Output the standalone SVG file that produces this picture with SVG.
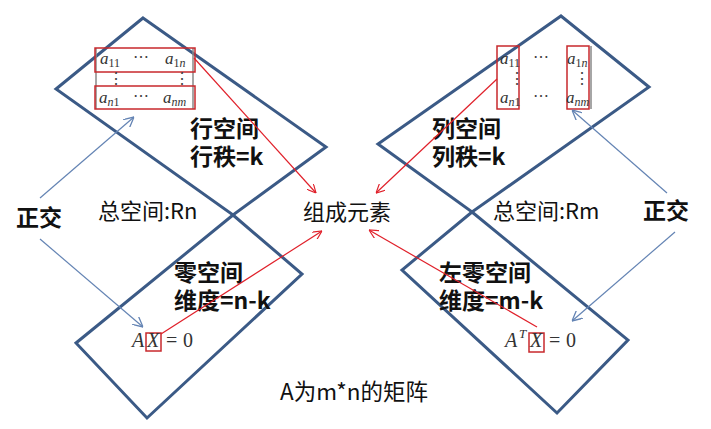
<svg xmlns="http://www.w3.org/2000/svg" width="711" height="429" viewBox="0 0 711 429">
<defs>
<style>
.plane{fill:none;stroke:#3b5a86;stroke-width:3;stroke-linejoin:miter}
.red{fill:none;stroke:#e0202a;stroke-width:1.2}
.blue{fill:none;stroke:#6484b4;stroke-width:1.2}
.box{fill:none;stroke:#c8282c;stroke-width:1.5}
.gray{stroke:#888;stroke-width:1.5}
.lab{font-family:"Noto Sans CJK SC","Noto Sans",sans-serif;font-size:22px;fill:#111}
.bold{font-weight:bold;font-size:23px}
.math{font-family:"Liberation Serif",serif;font-style:italic;font-size:17px;fill:#333}
.mr{font-family:"Liberation Serif",serif;font-size:16px;fill:#444}
.eq{font-family:"Liberation Serif",serif;font-size:20px;fill:#333}
.eqi{font-family:"Liberation Serif",serif;font-style:italic;font-size:20px;fill:#333}
.sub{font-size:12px;font-style:normal}
.subi{font-size:12px}
</style>
<marker id="ar" viewBox="0 0 10 10" refX="10" refY="5" markerWidth="9" markerHeight="9" orient="auto" markerUnits="userSpaceOnUse">
<path d="M0,0 L10,5 L0,10" fill="none" stroke="#e0202a" stroke-width="1.3"/>
</marker>
<marker id="ab" viewBox="0 0 10 10" refX="10" refY="5" markerWidth="10" markerHeight="10" orient="auto" markerUnits="userSpaceOnUse">
<path d="M0,0 L10,5 L0,10" fill="none" stroke="#6484b4" stroke-width="1.3"/>
</marker>
</defs>
<rect width="711" height="429" fill="#fff"/>

<g id="row-space">
<polygon class="plane" points="143,18 326,147 233,215 56,89"/>
<line class="gray" x1="96" y1="48" x2="96" y2="109"/>
<line class="gray" x1="193" y1="48" x2="193" y2="109"/>
<rect class="box" x="95" y="48" width="100" height="24"/>
<rect class="box" x="95" y="86" width="100" height="23"/>
<text class="math" x="100" y="64">a<tspan class="sub" dy="3">11</tspan></text>
<text class="mr" x="133" y="62">⋯</text>
<text class="math" x="165" y="64">a<tspan class="sub" dy="3">1</tspan><tspan class="subi">n</tspan></text>
<text class="mr" x="108" y="84">⋮</text>
<text class="mr" x="174" y="84">⋮</text>
<text class="math" x="99" y="103">a<tspan class="subi" dy="3">n</tspan><tspan class="sub">1</tspan></text>
<text class="mr" x="133" y="101">⋯</text>
<text class="math" x="163" y="103">a<tspan class="subi" dy="3">nm</tspan></text>
<text class="lab bold" x="190" y="137">行空间<tspan x="190" y="165">行秩=k</tspan></text>
</g>

<g id="col-space">
<polygon class="plane" points="561,16 649,87 472,212 378,144"/>
<line class="gray" x1="591" y1="46" x2="591" y2="109"/>
<rect class="box" x="497" y="46" width="22" height="63"/>
<rect class="box" x="567" y="46" width="22" height="63"/>
<text class="math" x="500" y="64">a<tspan class="sub" dy="3">11</tspan></text>
<text class="mr" x="533" y="62">⋯</text>
<text class="math" x="567" y="64">a<tspan class="sub" dy="3">1</tspan><tspan class="subi">n</tspan></text>
<text class="mr" x="509" y="84">⋮</text>
<text class="mr" x="574" y="84">⋮</text>
<text class="math" x="500" y="103">a<tspan class="subi" dy="3">n</tspan><tspan class="sub">1</tspan></text>
<text class="mr" x="533" y="101">⋯</text>
<text class="math" x="566" y="103">a<tspan class="subi" dy="3">nm</tspan></text>
<text class="lab bold" x="432" y="137">列空间<tspan x="432" y="165">列秩=k</tspan></text>
</g>

<g id="null-space">
<polygon class="plane" points="233,215 302,274 147,418 76,343"/>
<rect class="box" x="146" y="333" width="15" height="18"/>
<text class="eqi" x="132" y="347">A</text>
<text class="eqi" x="147" y="347">X</text>
<text class="eq" x="166" y="347">=</text>
<text class="eq" x="183" y="347">0</text>
<text class="lab bold" x="174" y="281">零空间<tspan x="174" y="309">维度=n-k</tspan></text>
</g>

<g id="left-null-space">
<polygon class="plane" points="472,212 628,340 557,413 402,270"/>
<rect class="box" x="529" y="333" width="15" height="19"/>
<text class="eqi" x="505" y="347">A</text>
<text class="eqi" x="519" y="338" style="font-size:13px">T</text>
<text class="eqi" x="530" y="347">X</text>
<text class="eq" x="549" y="347">=</text>
<text class="eq" x="566" y="347">0</text>
<text class="lab bold" x="439" y="281">左零空间<tspan x="439" y="309">维度=m-k</tspan></text>
</g>

<g id="labels">
<text class="lab" x="98" y="219">总空间:Rn</text>
<text class="lab" x="493" y="219">总空间:Rm</text>
<text class="lab" x="303" y="220">组成元素</text>
<text class="lab bold" x="16" y="226">正交</text>
<text class="lab bold" x="643" y="219">正交</text>
<text class="lab" x="280" y="400" style="font-size:22.5px">A为m*n的矩阵</text>
</g>

<g id="connectors">
<line class="red" x1="194" y1="58" x2="316" y2="193" marker-end="url(#ar)"/>
<line class="red" x1="497" y1="79" x2="376" y2="193" marker-end="url(#ar)"/>
<line class="red" x1="161" y1="334" x2="322" y2="231" marker-end="url(#ar)"/>
<line class="red" x1="537" y1="327" x2="369" y2="230" marker-end="url(#ar)"/>
<line class="blue" x1="40" y1="198" x2="134" y2="117" marker-end="url(#ab)"/>
<line class="blue" x1="40" y1="239" x2="143" y2="327" marker-end="url(#ab)"/>
<line class="blue" x1="667" y1="193" x2="572" y2="110" marker-end="url(#ab)"/>
<line class="blue" x1="675" y1="232" x2="572" y2="321" marker-end="url(#ab)"/>
</g>
</svg>
